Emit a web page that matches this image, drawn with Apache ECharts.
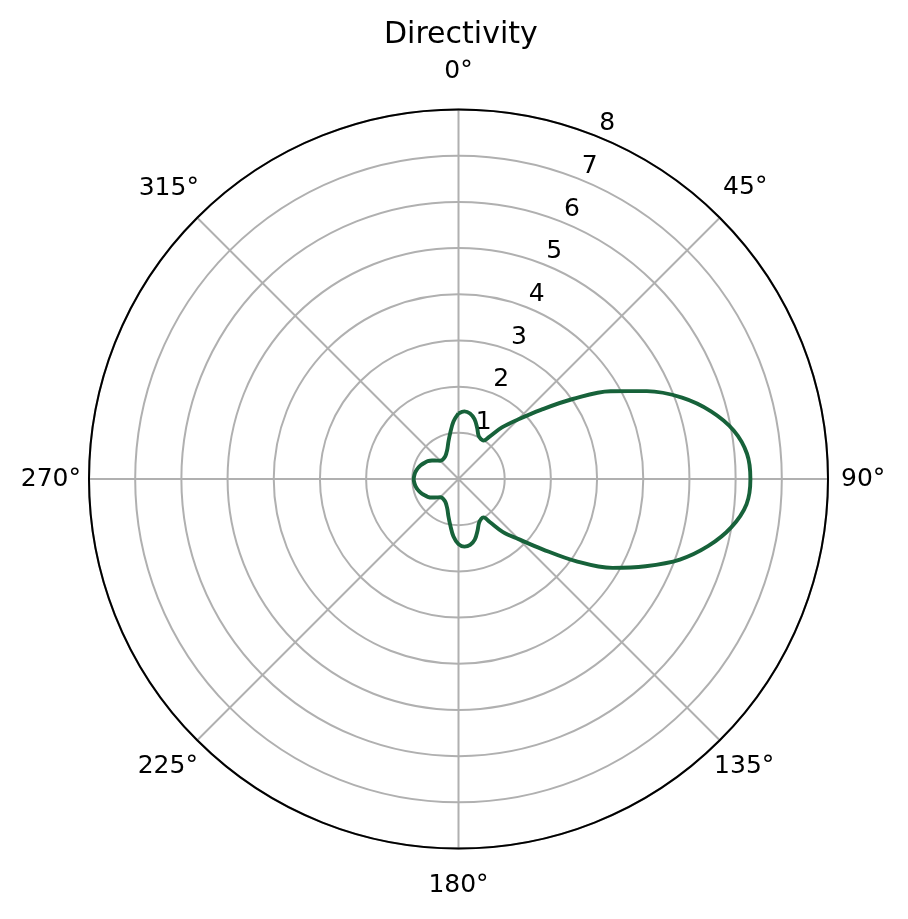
<!DOCTYPE html>
<html>
<head>
<meta charset="utf-8">
<script src="https://cdn.jsdelivr.net/npm/echarts@6/dist/echarts.min.js"></script>
<style>
  html, body { margin: 0; padding: 0; background: #ffffff; }
  #chart { width: 908px; height: 919px; }
</style>
</head>
<body>
<div id="chart"></div>
<script>
// ---- Data (angle in degrees, clockwise from north) ----
const thetaDeg = [
  0, 5, 10, 15, 20, 25, 30, 33, 36, 40, 45, 50, 55, 60, 65, 70, 75, 80, 85,
  90, 95, 100, 105, 110, 115, 120, 125, 130, 135, 140, 144, 147, 150, 155,
  160, 165, 170, 175, 180, 185, 190, 195, 200, 205, 210, 215, 220, 225, 230,
  235, 240, 245, 250, 255, 260, 265, 270, 275, 280, 285, 290, 295, 300, 305,
  310, 315, 320, 325, 330, 335, 340, 345, 350, 355, 360
];
const directivity = [
  1.42, 1.47, 1.44, 1.34, 1.18, 1.03, 0.99, 0.99, 1.12, 1.45, 1.82, 2.33, 3.02, 3.80, 4.50, 5.15, 5.66, 6.05, 6.27,
  6.32, 6.26, 6.00, 5.60, 5.10, 4.47, 3.85, 3.10, 2.36, 1.84, 1.50, 1.15, 0.99, 0.99, 1.05,
  1.20, 1.36, 1.45, 1.47, 1.41, 1.25, 1.02, 0.84, 0.70, 0.62, 0.57, 0.55, 0.54, 0.56, 0.62,
  0.70, 0.77, 0.82, 0.87, 0.91, 0.94, 0.96, 0.97, 0.96, 0.94, 0.91, 0.87, 0.82, 0.77, 0.70,
  0.62, 0.56, 0.54, 0.55, 0.57, 0.62, 0.70, 0.84, 1.02, 1.25, 1.42
];
const angleTicks = [0, 45, 90, 135, 180, 225, 270, 315];
const radiusTicks = [1, 2, 3, 4, 5, 6, 7, 8];
const radiusLabelAngle = 22.5;
const titleText = 'Directivity';

// ---- Build chart ----
const FONT = 'DejaVu Sans';
const seriesData = thetaDeg.map((t, i) => [directivity[i], t]);
const rLabelData = radiusTicks.map(v => ({ value: [v + 0.42, radiusLabelAngle], tick: v }));

// padding [top, right, bottom, left]; vertical padding shifts the glyphs by half its value
const rich = {
  a0:   { padding: [0, 0, 68, 0] },
  a45:  { padding: [0, 0, 46, 9] },
  a90:  { padding: [0, 0, 0, 21] },
  a135: { padding: [39, 0, 0, 0] },
  a180: { padding: [64, 0, 0, 0] },
  a225: { padding: [39, 5, 0, 0] },
  a270: { padding: [0, 16, 0, 0] },
  a315: { padding: [0, 4, 44, 0] }
};
Object.keys(rich).forEach(k => {
  Object.assign(rich[k], { fontFamily: FONT, fontSize: 25, lineHeight: 25, color: '#000' });
});

const chart = echarts.init(document.getElementById('chart'), null, { renderer: 'canvas' });
chart.setOption({
  backgroundColor: '#ffffff',
  animation: false,
  title: {
    text: titleText,
    left: 379,
    top: 15,
    textStyle: { fontFamily: FONT, fontSize: 30, fontWeight: 'normal', color: '#000', lineHeight: 30 }
  },
  polar: {
    center: [458.5, 479],
    radius: 369.5
  },
  angleAxis: {
    type: 'value',
    min: 0,
    max: 360,
    interval: 45,
    startAngle: 90,
    clockwise: true,
    axisLine: { show: true, lineStyle: { color: '#000', width: 2 } },
    axisTick: { show: false },
    splitLine: { show: true, lineStyle: { color: '#b0b0b0', width: 2 } },
    axisLabel: {
      show: true,
      margin: -8,
      fontFamily: FONT,
      fontSize: 25,
      color: '#000',
      formatter: function (v) {
        if (angleTicks.indexOf(v) < 0) return '';
        return '{a' + v + '|' + v + '°}';
      },
      rich: rich
    }
  },
  radiusAxis: {
    type: 'value',
    min: 0,
    max: 8,
    interval: 1,
    axisLine: { show: false },
    axisTick: { show: false },
    axisLabel: { show: false },
    splitLine: { show: true, lineStyle: { color: '#b0b0b0', width: 2 } }
  },
  series: [
    {
      type: 'line',
      coordinateSystem: 'polar',
      data: seriesData,
      showSymbol: false,
      smooth: 0.35,
      lineStyle: { color: '#17623a', width: 3.9 },
      z: 5
    },
    {
      type: 'scatter',
      coordinateSystem: 'polar',
      clip: false,
      symbolSize: 0,
      itemStyle: { color: '#000000' },
      data: rLabelData,
      label: {
        show: true,
        position: 'inside',
        offset: [0, 4],
        fontFamily: FONT,
        fontSize: 25,
        color: '#000000',
        opacity: 1
      },
      emphasis: { disabled: true },
      z: 6
    }
  ]
});
chart.setOption({
  series: [{}, { label: { formatter: p => String(p.data.tick) } }]
});
</script>
</body>
</html>
